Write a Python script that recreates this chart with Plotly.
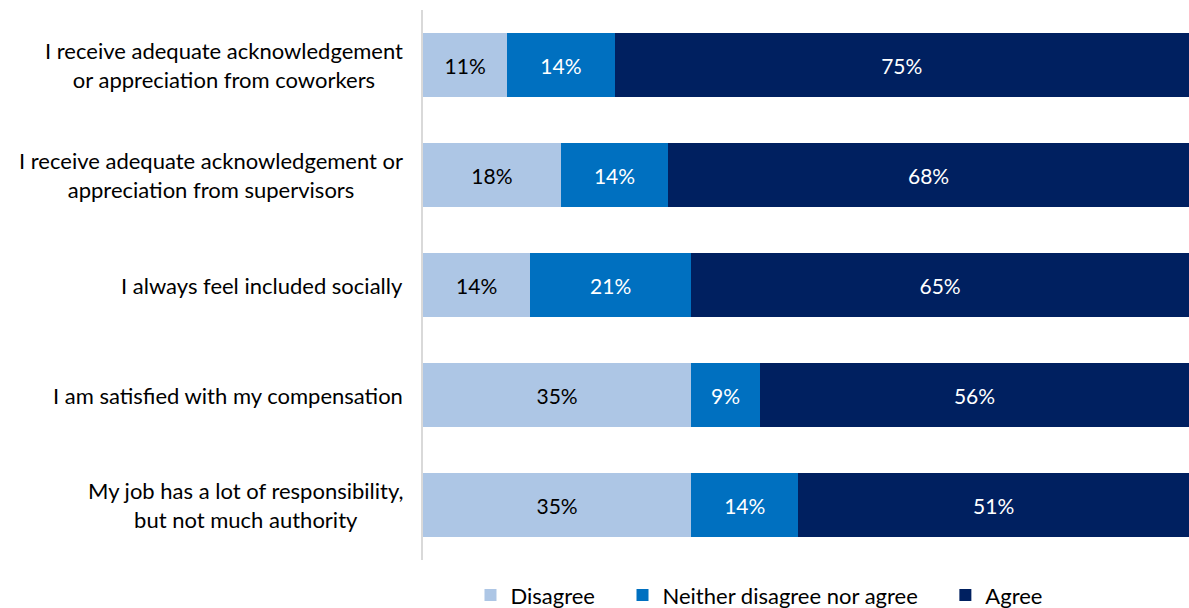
import plotly.graph_objects as go

# Survey statements (top to bottom) and response shares in percent
statements = [
    "I receive adequate acknowledgement<br>or appreciation from coworkers",
    "I receive adequate acknowledgement or<br>appreciation from supervisors",
    "I always feel included socially",
    "I am satisfied with my compensation",
    "My job has a lot of responsibility,<br>but not much authority",
]
disagree = [11, 18, 14, 35, 35]
neither = [14, 14, 21, 9, 14]
agree = [75, 68, 65, 56, 51]

NBSP = "\u00a0"
series = [
    ("Disagree" + NBSP * 4, disagree, "#adc6e5", "#000000"),
    ("Neither disagree nor agree" + NBSP * 4, neither, "#0070c0", "#ffffff"),
    ("Agree", agree, "#002060", "#ffffff"),
]

FONT = "Lato, 'Open Sans', sans-serif"

fig = go.Figure()
for name, vals, color, txtcolor in series:
    fig.add_trace(go.Bar(
        name=name,
        y=list(range(len(statements))),
        x=vals,
        orientation="h",
        marker=dict(color=color, line=dict(width=0)),
        text=[f"{v}%" for v in vals],
        textposition="inside",
        insidetextanchor="middle",
        textangle=0,
        textfont=dict(family=FONT, size=21, color=txtcolor),
        hoverinfo="skip",
    ))

# Category labels, centred line by line, right-aligned against the axis
for i, s in enumerate(statements):
    fig.add_annotation(
        x=0, xref="paper", y=i, yref="y",
        text=s, showarrow=False,
        xanchor="right", yanchor="middle", align="center",
        xshift=-18,
        font=dict(family=FONT, size=22, color="#000000"),
    )

fig.update_layout(
    barmode="stack",
    bargap=0.427,
    width=1189, height=608,
    margin=dict(l=423, r=0, t=10, b=48, autoexpand=False),
    paper_bgcolor="white",
    plot_bgcolor="white",
    font=dict(family=FONT, size=20, color="#000000"),
    uniformtext=dict(mode=False),
    showlegend=True,
    legend=dict(
        orientation="h",
        x=0.062, xanchor="left",
        y=-0.026, yanchor="top",
        font=dict(family=FONT, size=22, color="#000000"),
        itemwidth=30,
        bgcolor="rgba(0,0,0,0)",
        traceorder="normal",
    ),
)
fig.update_xaxes(range=[0, 100], visible=False, fixedrange=True)
fig.update_yaxes(
    range=[len(statements) - 0.5, -0.5],
    showticklabels=False, ticks="",
    showgrid=False, zeroline=False,
    showline=True, linecolor="#d9d9d9", linewidth=2,
    fixedrange=True,
)

fig.write_html("out.html", config={"displayModeBar": False})
